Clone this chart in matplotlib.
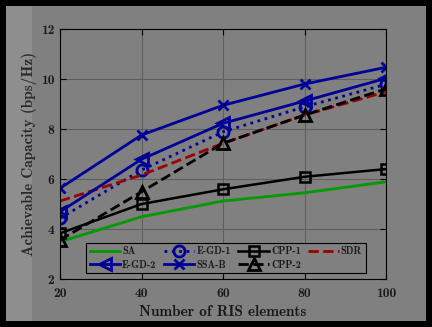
import matplotlib
matplotlib.use("Agg")
import matplotlib.pyplot as plt
from matplotlib.patches import Rectangle

# RIS element counts on the x axis
ris_elements = [20, 40, 60, 80, 100]

# achievable capacity (bps/Hz)
sa = [3.50, 4.50, 5.13, 5.46, 5.90]
egd1 = [4.44, 6.37, 7.90, 8.90, 9.80]
cpp1 = [3.84, 5.01, 5.60, 6.10, 6.41]
sdr = [5.13, 6.17, 7.44, 8.57, 9.50]
egd2 = [4.70, 6.80, 8.24, 9.13, 10.04]
ssab = [5.64, 7.77, 8.96, 9.81, 10.48]
cpp2 = [3.57, 5.50, 7.44, 8.57, 9.62]

BG = "#808080"
NAVY = "#000099"
GREEN = "#009900"
DARKRED = "#990000"
TEXT = "#1a1a1a"

plt.rcParams.update({
    "font.family": ["cmb10", "DejaVu Serif"],
    "font.size": 10,
    "axes.unicode_minus": False,
})

fig = plt.figure(figsize=(4.32, 3.27), dpi=100, facecolor="black")
fig.patches.append(Rectangle((6 / 432, 1 - 321 / 327), 420 / 432, 315 / 327,
                             transform=fig.transFigure, facecolor=BG, edgecolor="none", zorder=-10))
fig.patches.append(Rectangle((6 / 432, 1 - 321 / 327), 26 / 432, 315 / 327,
                             transform=fig.transFigure, facecolor="#8e8e8e", edgecolor="none", zorder=-9))

ax = fig.add_axes([60 / 432, 1 - 279.3 / 327, 326 / 432, 250 / 327])
ax.set_facecolor(BG)

lines = {}
lines["SA"] = ax.plot(ris_elements, sa, color=GREEN, lw=2, label="SA")[0]
lines["E-GD-1"] = ax.plot(ris_elements, egd1, color=NAVY, lw=2, ls=":", marker="o", ms=8,
                          mfc="none", mew=2, label="E-GD-1")[0]
lines["CPP-1"] = ax.plot(ris_elements, cpp1, color="black", lw=1.8, marker="s", ms=7,
                         mfc="none", mew=1.8, label="CPP-1")[0]
lines["SDR"] = ax.plot(ris_elements, sdr, color=DARKRED, lw=2, ls="--", label="SDR")[0]
lines["E-GD-2"] = ax.plot(ris_elements, egd2, color=NAVY, lw=2, marker="<", ms=9,
                          mfc="none", mew=2, label="E-GD-2")[0]
lines["SSA-B"] = ax.plot(ris_elements, ssab, color=NAVY, lw=2, marker="x", ms=7,
                         mew=2, label="SSA-B")[0]
lines["CPP-2"] = ax.plot(ris_elements, cpp2, color="black", lw=2, ls="--", marker="^", ms=9,
                         mfc="none", mew=2, label="CPP-2")[0]

ax.set_xlim(20, 100)
ax.set_ylim(2, 12)
ax.set_xticks(ris_elements)
ax.set_yticks([2, 4, 6, 8, 10, 12])
ax.tick_params(direction="in", length=4, top=True, right=True, colors="black",
               labelcolor=TEXT, labelsize=9.8)
ax.tick_params(axis="x", pad=6)
ax.tick_params(axis="y", pad=4)
ax.grid(True, color="#5e5e5e", lw=0.8)
ax.set_axisbelow(True)
for s in ax.spines.values():
    s.set_color("black")
    s.set_linewidth(0.8)

ax.set_xlabel("Number of RIS elements", color=TEXT, fontsize=11, labelpad=4)
ax.set_ylabel("Achievable Capacity (bps/Hz)", color="#2a2a2a", fontsize=11, labelpad=2.5)

# matplotlib fills legend columns first, so order handles to read row-wise
order = ["SA", "E-GD-2", "E-GD-1", "SSA-B", "CPP-1", "CPP-2", "SDR"]
leg = ax.legend([lines[k] for k in order], order, ncol=4, loc="lower left",
                bbox_to_anchor=(0.080, 0.025), fontsize=7.3, frameon=True, fancybox=False,
                facecolor=BG, edgecolor="black", framealpha=1, handlelength=3.0,
                handletextpad=0.2, columnspacing=0.75, borderpad=0.35, labelspacing=0.3,
                borderaxespad=0)
leg.get_frame().set_linewidth(0.8)
for t in leg.get_texts():
    t.set_color(TEXT)

fig.savefig("out.png", dpi=100, facecolor="black")
